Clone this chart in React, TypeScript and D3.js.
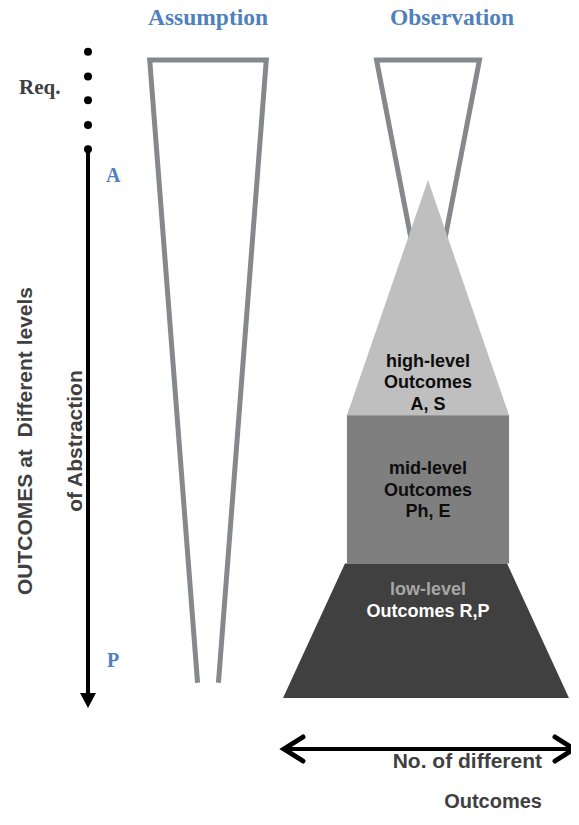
import * as d3 from 'd3';

// Abstraction axis: 0 = top of the funnels, 100 = base of the pyramid
const LEVEL_NAMES = ['high', 'mid', 'low'];
const LEVEL_TOP = [18.8, 55.7, 78.9];
const LEVEL_BOTTOM = [55.7, 78.9, 100];
// No. of different outcomes (width of each band at its top / bottom)
const LEVEL_TOP_WIDTH = [0, 55.9, 55.9];
const LEVEL_BOTTOM_WIDTH = [55.9, 55.9, 98.6];
const LEVEL_FILLS = ['#bfbfbf', '#7f7f7f', '#404040'];
const LEVEL_LINES = [
  ['high-level', 'Outcomes', 'A, S'],
  ['mid-level', 'Outcomes', 'Ph, E'],
  ['low-level', 'Outcomes R,P'],
];
const LEVEL_LINE_COLORS = [
  ['#0d0d0d', '#0d0d0d', '#0d0d0d'],
  ['#0d0d0d', '#0d0d0d', '#0d0d0d'],
  ['#a6a6a6', '#ffffff'],
];
const LEVEL_TEXT_Y = [48.1, 64.9, 83.9];

// funnels: [width at top, width at bottom, abstraction of bottom]
const ASSUMPTION_FUNNEL = [40.2, 7.2, 97.6];
const OBSERVATION_FUNNEL = [35.5, 0, 41.8];

const REQ_DOTS = [-1.3, 2.6, 6.3, 10.2, 14];

const width = 579;
const height = 825;
const yScale = d3.scaleLinear().domain([0, 100]).range([60, 698]);
const wScale = d3.scaleLinear().domain([0, 100]).range([0, 290]);
const assumptionX = 208;
const observationX = 428;

const SERIF = '"Liberation Serif", "Times New Roman", serif';
const SANS = '"Liberation Sans", Arial, sans-serif';
const BLUE = '#4f81bd';
const DARK = '#404040';
const FUNNEL = '#85888c';

export default function App() {
  const [aTop, aBottom, aEnd] = ASSUMPTION_FUNNEL;
  const [oTop, oBottom, oEnd] = OBSERVATION_FUNNEL;
  const line = d3.line();

  const assumptionPath = line([
    [assumptionX - wScale(aBottom) / 2, yScale(aEnd)],
    [assumptionX - wScale(aTop) / 2, yScale(0)],
    [assumptionX + wScale(aTop) / 2, yScale(0)],
    [assumptionX + wScale(aBottom) / 2, yScale(aEnd)],
  ]);
  const observationPath =
    line([
      [observationX - wScale(oBottom) / 2, yScale(oEnd)],
      [observationX - wScale(oTop) / 2, yScale(0)],
      [observationX + wScale(oTop) / 2, yScale(0)],
      [observationX + wScale(oBottom) / 2, yScale(oEnd)],
    ]) + 'Z';

  const axisX = 88;
  const arrowY = 749;
  const arrowL = 284;
  const arrowR = 574;

  return (
    <svg width={width} height={height} style={{ display: 'block', margin: '-8px' }}>
      <rect width={width} height={height} fill="#fff" />

      {/* column titles */}
      <text x={assumptionX} y={25} textAnchor="middle" fontFamily={SERIF} fontWeight="bold" fontSize={23.5} fill={BLUE}>
        Assumption
      </text>
      <text x={452} y={25} textAnchor="middle" fontFamily={SERIF} fontWeight="bold" fontSize={23.5} fill={BLUE}>
        Observation
      </text>

      {/* abstraction axis */}
      <text x={19} y={94} fontFamily={SERIF} fontWeight="bold" fontSize={21} fill={DARK}>Req.</text>
      {REQ_DOTS.map((d, i) => (
        <circle key={i} cx={axisX} cy={yScale(d)} r={4} fill="#000" />
      ))}
      <line x1={axisX} x2={axisX} y1={yScale(14)} y2={694} stroke="#000" strokeWidth={4} />
      <path d={`M${axisX - 8},693 L${axisX + 8},693 L${axisX},708 Z`} fill="#000" />
      <text x={106} y={182} fontFamily={SERIF} fontWeight="bold" fontSize={20} fill={BLUE}>A</text>
      <text x={107} y={667} fontFamily={SERIF} fontWeight="bold" fontSize={20} fill={BLUE}>P</text>

      <text
        transform="translate(32,441) rotate(-90)"
        textAnchor="middle"
        fontFamily={SANS}
        fontWeight="bold"
        fontSize={21}
        fill={DARK}
        style={{ whiteSpace: 'pre' }}
      >
        {'OUTCOMES at  Different levels'}
      </text>
      <text
        transform="translate(82,441) rotate(-90)"
        textAnchor="middle"
        fontFamily={SANS}
        fontWeight="bold"
        fontSize={21}
        fill={DARK}
      >
        of Abstraction
      </text>

      {/* funnels */}
      <path d={assumptionPath ?? ''} fill="none" stroke={FUNNEL} strokeWidth={5} strokeLinejoin="miter" />
      <path d={observationPath} fill="none" stroke={FUNNEL} strokeWidth={5} strokeLinejoin="miter" />

      {/* observed pyramid */}
      {LEVEL_NAMES.map((name, i) => {
        const tw = wScale(LEVEL_TOP_WIDTH[i]) / 2;
        const bw = wScale(LEVEL_BOTTOM_WIDTH[i]) / 2;
        const y0 = yScale(LEVEL_TOP[i]);
        const y1 = yScale(LEVEL_BOTTOM[i]);
        const cx = i === 2 ? observationX - 2 : observationX;
        const d =
          line([
            [cx - tw, y0],
            [cx + tw, y0],
            [cx + bw, y1],
            [cx - bw, y1],
          ]) + 'Z';
        return (
          <g key={name}>
            <path d={d} fill={LEVEL_FILLS[i]} />
            {LEVEL_LINES[i].map((t, j) => (
              <text
                key={j}
                x={observationX}
                y={yScale(LEVEL_TEXT_Y[i]) + j * 21.5}
                textAnchor="middle"
                fontFamily={SANS}
                fontWeight="bold"
                fontSize={18}
                fill={LEVEL_LINE_COLORS[i][j]}
              >
                {t}
              </text>
            ))}
          </g>
        );
      })}

      {/* outcomes axis */}
      <line x1={arrowL + 2} x2={arrowR - 2} y1={arrowY} y2={arrowY} stroke="#000" strokeWidth={4} />
      <path
        d={`M${arrowL + 19},${arrowY - 12} L${arrowL},${arrowY} L${arrowL + 19},${arrowY + 12}`}
        fill="none"
        stroke="#000"
        strokeWidth={5}
        strokeLinecap="round"
        strokeLinejoin="miter"
      />
      <path
        d={`M${arrowR - 19},${arrowY - 12} L${arrowR},${arrowY} L${arrowR - 19},${arrowY + 12}`}
        fill="none"
        stroke="#000"
        strokeWidth={5}
        strokeLinecap="round"
        strokeLinejoin="miter"
      />
      <text x={542} y={768} textAnchor="end" fontFamily={SANS} fontWeight="bold" fontSize={21} fill={DARK}>
        No. of different
      </text>
      <text x={542} y={808} textAnchor="end" fontFamily={SANS} fontWeight="bold" fontSize={20} fill={DARK}>
        Outcomes
      </text>
    </svg>
  );
}
